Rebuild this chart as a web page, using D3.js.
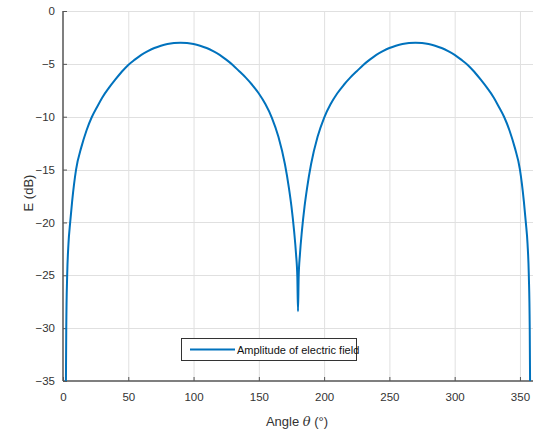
<!DOCTYPE html>
<html><head><meta charset="utf-8">
<script src="https://cdn.jsdelivr.net/npm/d3@7"></script>
<style>body{margin:0;background:#fff}svg{display:block}text{font-family:"Liberation Sans",Arial,sans-serif}</style>
</head><body><svg id="c" width="535" height="436"></svg>
<script>
// Lobe 1 readings (0..180°); lobe 2 readings (180..360°)
const anglesLobe1 = [0,2.2,2.5,3.2,4.2,5.5,7,10,14,18,22,26,30,35,40,45,50,55,60,65,70,75,80,85,90,95,100,105,110,115,120,125,130,135,140,145,150,155,160,165,170,173,175,177,178.5,179.5,180];
const efieldLobe1 = [-60,-36,-30,-25,-22,-20,-18,-15,-12.9,-11.3,-10.05,-9.1,-8.2,-7.3,-6.5,-5.75,-5.1,-4.6,-4.15,-3.8,-3.5,-3.28,-3.12,-3.03,-3.0,-3.03,-3.12,-3.28,-3.5,-3.8,-4.15,-4.6,-5.1,-5.7,-6.3,-7.0,-7.8,-8.8,-10.1,-11.9,-14.5,-16.7,-18.5,-20.8,-23,-25.2,-28.4];
const anglesLobe2 = [180.5,181.5,183,185,187,190,195,200,205,210,215,220,225,230,235,240,245,250,255,260,265,270,275,280,285,290,295,300,305,310,315,320,325,330,334,338,342,346,350,353,354.5,355.8,356.8,357.5,357.8,360];
const efieldLobe2 = [-25.2,-23,-20.8,-18.5,-16.7,-14.5,-11.9,-10.1,-8.8,-7.8,-7.0,-6.3,-5.7,-5.1,-4.6,-4.15,-3.8,-3.5,-3.28,-3.12,-3.03,-3.0,-3.03,-3.12,-3.28,-3.5,-3.8,-4.15,-4.6,-5.1,-5.75,-6.5,-7.3,-8.2,-9.1,-10.05,-11.3,-12.9,-15,-18,-20,-22,-25,-30,-36,-60];
const xTicks = [0,50,100,150,200,250,300,350];
const yTicks = [0,-5,-10,-15,-20,-25,-30,-35];
const seriesName = "Amplitude of electric field";

const angles = anglesLobe1.concat(anglesLobe2);
const efield = efieldLobe1.concat(efieldLobe2);

const svg = d3.select("#c");
const L=63,R=533,T=11,B=381;
const x = d3.scaleLinear().domain([0,360]).range([L,R]);
const y = d3.scaleLinear().domain([-35,0]).range([B,T]);

svg.append("defs").append("clipPath").attr("id","clip").append("rect").attr("x",L).attr("y",T).attr("width",R-L).attr("height",B-T);

const g = svg.append("g");
g.selectAll(".gx").data(xTicks.filter(d=>d>0)).enter().append("line")
  .attr("x1",d=>x(d)+0.5).attr("x2",d=>x(d)+0.5).attr("y1",T).attr("y2",B).attr("stroke","#e0e0e0").attr("stroke-width",1);
g.selectAll(".gy").data(yTicks.filter(d=>d>-35)).enter().append("line")
  .attr("x1",L).attr("x2",R).attr("y1",d=>Math.round(y(d))+0.5).attr("y2",d=>Math.round(y(d))+0.5).attr("stroke","#e0e0e0").attr("stroke-width",1);

const xa = d3.axisBottom(x).tickValues(xTicks).tickSize(-4).tickPadding(12);
const ya = d3.axisLeft(y).tickValues(yTicks).tickSize(-4).tickPadding(8);
const gx = svg.append("g").attr("transform",`translate(0,${B})`).call(xa);
const gy = svg.append("g").attr("transform",`translate(${L},0)`).call(ya);
[gx,gy].forEach(a=>{
  a.select(".domain").attr("stroke","#555").attr("stroke-width",1.5);
  a.selectAll(".tick line").attr("stroke","#555");
  a.selectAll("text").attr("fill","#333").attr("font-size",11.5);
});
gx.select(".domain").attr("d",`M${L},0H${R}`);
gy.select(".domain").attr("d",`M0,${B}V${T}`);

const line = d3.line().x((d,i)=>x(angles[i])).y(d=>y(d)).curve(d3.curveMonotoneX);
svg.append("path").datum(efield).attr("clip-path","url(#clip)")
  .attr("d",line).attr("fill","none").attr("stroke","#0072BD").attr("stroke-width",2).attr("stroke-linejoin","round");

svg.append("text").attr("x",297).attr("y",426).attr("text-anchor","middle").attr("font-size",13).attr("fill","#333")
  .html('Angle <tspan font-style="italic" font-family="DejaVu Serif">θ</tspan> (°)');
svg.append("text").attr("transform","translate(33,193) rotate(-90)").attr("text-anchor","middle").attr("font-size",13).attr("fill","#333").text("E (dB)");

const lg = svg.append("g");
lg.append("rect").attr("x",181.5).attr("y",338.5).attr("width",175).attr("height",22).attr("fill","#fff").attr("stroke","#333").attr("stroke-width",1);
lg.append("line").attr("x1",190).attr("x2",235).attr("y1",349.5).attr("y2",349.5).attr("stroke","#0072BD").attr("stroke-width",2);
lg.append("text").attr("x",237).attr("y",353.5).attr("font-size",11).attr("fill","#111").text(seriesName);
</script></body></html>
